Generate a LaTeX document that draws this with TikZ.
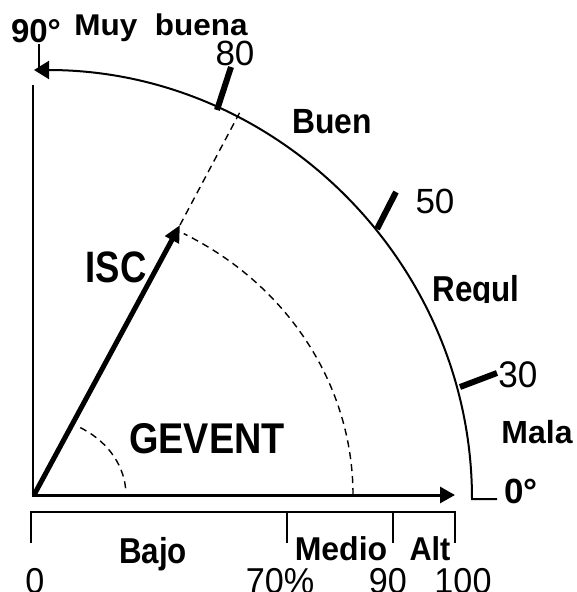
\documentclass[tikz,border=0pt]{standalone}
\usepackage{fontspec}
\setmainfont{Liberation Sans}
\usetikzlibrary{arrows.meta}
\newcommand{\lab}[3]{\scalebox{#2}[1]{\fontsize{#1}{#1}\selectfont #3}}
\tikzset{
  lbl/.style={inner sep=0pt, anchor=base},
  axisline/.style={line width=2pt, line cap=butt},
  dashline/.style={line width=1.4pt, dash pattern=on 7pt off 5pt},
  ticklin/.style={line width=6pt},
}
\begin{document}
\begin{tikzpicture}[x=1pt,y=-1pt]
\useasboundingbox (0,0) rectangle (576,592);
\clip (0,0) rectangle (576,592);
% coordinates
\coordinate (O) at (34,495);
\coordinate (tip) at (180,225);
\coordinate (rim) at (240,112);
% outer arc with bottom foot
\draw[axisline, -{Triangle[length=15pt,width=18pt]}] (497,499) -- (472,499)
  arc[start angle=0, end angle=-90, x radius=438, y radius=429];
% top short line under 90°
\draw[line width=2pt] (39,44) -- (39,70);
% vertical axis
\draw[axisline] (33,85) -- (33,497);
% horizontal axis
\draw[line width=3pt, -{Triangle[length=15pt,width=16pt]}] (32,495) -- (455,495);
% dashed helpers
\draw[dashline] (tip) -- (rim);
\draw[dashline] (353,495) arc[start angle=0, end angle=-62, x radius=319, y radius=296];
\draw[dashline] (125.6,488.2) arc[start angle=-5, end angle=-61, x radius=92, y radius=78];
% ISC vector
\draw[line width=5pt, -{Triangle[length=17pt,width=15pt]}] (O) -- (tip);
% ticks on rim
\draw[ticklin] (217,110) -- (231,67);
\draw[ticklin] (377,229) -- (396,192);
\draw[ticklin] (460,387) -- (497,373);
% scale bar
\draw[axisline] (31,543) -- (31,512) -- (455,512) -- (455,543);
\draw[axisline] (287,512) -- (287,543);
\draw[axisline] (393,512) -- (393,543);
% labels
\node[lbl] (l90) at (36,42) {\lab{33}{1}{\bfseries 90°}};
\node[lbl] (lmuy) at (161,35) {\lab{30}{1.05}{\bfseries Muy\ \ buena}};
\node[lbl] (l80) at (235,65) {\lab{35}{1}{80}};
\node[lbl] (lbuen) at (332,133) {\lab{35}{0.91}{\bfseries Buen}};
\node[lbl] (l50) at (435,213) {\lab{35}{1}{50}};
\begin{scope}
\clip (400,250) rectangle (576,302);
\node[lbl] (lreg) at (476,301) {\lab{36}{0.87}{\bfseries Regul}};
\end{scope}
\node[lbl] (l30) at (518,387) {\lab{37}{0.95}{30}};
\node[lbl] (lmala) at (537,443) {\lab{32}{1}{\bfseries Mala}};
\node[lbl] (l0deg) at (521,503) {\lab{35}{1}{\bfseries 0°}};
\node[lbl] (lisc) at (116,282) {\lab{44}{0.83}{\bfseries ISC}};
\node[lbl] (lgev) at (207,453) {\lab{43}{0.88}{\bfseries GEVENT}};
\node[lbl] (lbajo) at (153,563) {\lab{36}{0.87}{\bfseries Bajo}};
\node[lbl] (lmed) at (341,560) {\lab{33}{0.97}{\bfseries Medio}};
\node[lbl] (lalt) at (430,560) {\lab{33}{0.93}{\bfseries Alt}};
\node[lbl] (n0) at (35,593) {\lab{36}{0.95}{0}};
\node[lbl] (n70) at (280,593) {\lab{36}{0.95}{70\%}};
\node[lbl] (n90) at (388,593) {\lab{36}{0.95}{90}};
\node[lbl] (n100) at (463,593) {\lab{36}{0.95}{100}};
\end{tikzpicture}
\end{document}
